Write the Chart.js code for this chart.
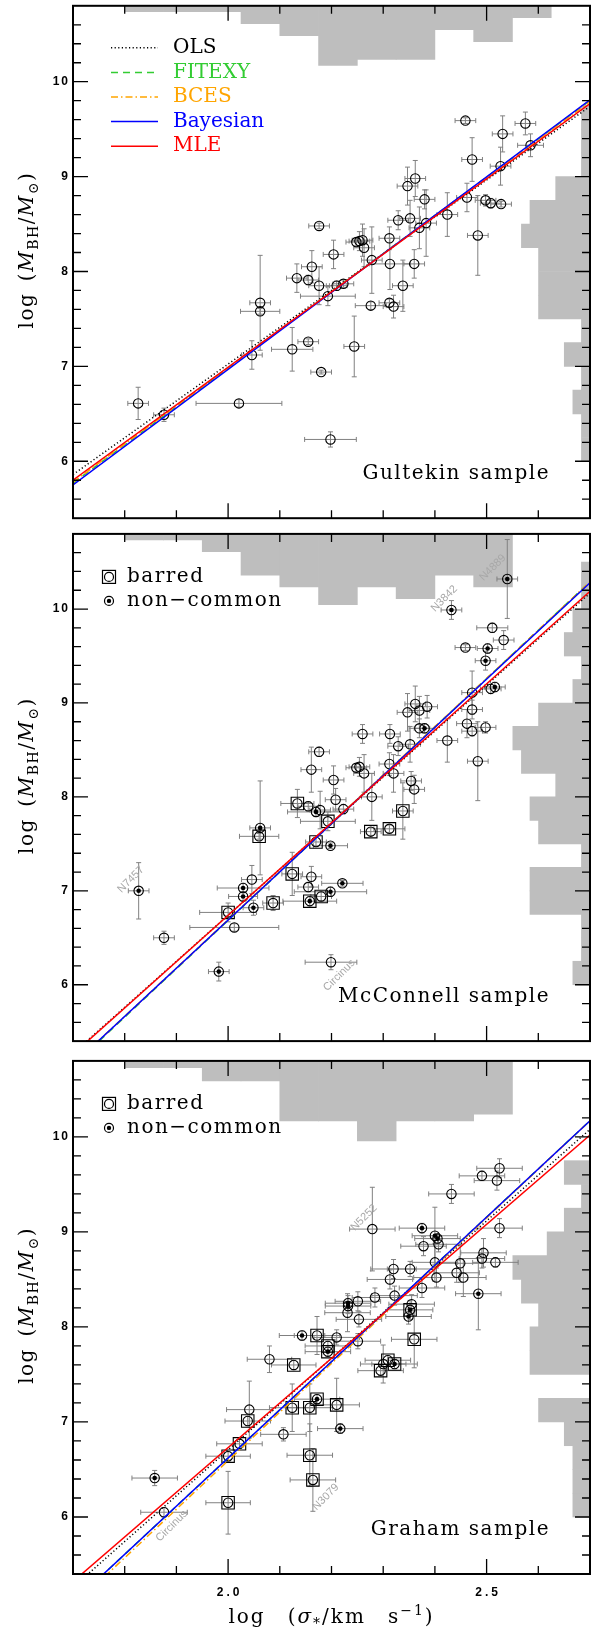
<!DOCTYPE html>
<html>
<head>
<meta charset="utf-8">
<script src="https://cdn.jsdelivr.net/npm/chart.js@4.4.1/dist/chart.umd.min.js"></script>
<style>
  body { margin: 0; background: #fff; overflow: hidden; }
  #wrap { position: relative; width: 600px; height: 1634px; }
  canvas { position: absolute; left: 0; }
</style>
</head>
<body>
<div id="wrap">
  <canvas id="gultekin" width="600" height="524" style="top:0"></canvas>
  <canvas id="mcconnell" width="600" height="527" style="top:524px"></canvas>
  <canvas id="graham" width="600" height="583" style="top:1051px"></canvas>
</div>
<script>
// ---- fit lines: log M_BH at log sigma = 1.7 and 2.7 ----
const fitNames = ['OLS', 'FITEXY', 'BCES', 'Bayesian', 'MLE'];
const fitColors = ['#000000', '#33cc33', '#ffa500', '#0000ff', '#ff0000'];
const fitDashes = [[1.2, 2.4], [7, 5], [7, 3, 1.5, 3], [], []];
const fitEnds = [1.7, 2.7];

const gulFitLo = [5.86, 5.77, 5.78, 5.75, 5.80];
const gulFitHi = [9.74, 9.80, 9.79, 9.81, 9.77];
const mcFitLo = [5.27, 5.14, 5.15, 5.15, 5.26];
const mcFitHi = [10.17, 10.29, 10.29, 10.28, 10.19];
const grFitLo = [5.26, 5.10, 5.06, 5.10, 5.32];
const grFitHi = [10.08, 10.17, 10.17, 10.17, 10.02];

// ---- marginal histograms ----
const sigmaBins = [1.8375, 1.9125, 1.9875, 2.0625, 2.1375, 2.2125, 2.2875, 2.3625, 2.4375, 2.5125, 2.5875];
const massBins = [6.125, 6.375, 6.625, 6.875, 7.125, 7.375, 7.625, 7.875, 8.125, 8.375, 8.625, 8.875,
                  9.125, 9.375, 9.625, 9.875, 10.125, 10.375];

const gulSigmaCounts = [1, 1, 1, 3, 5, 10, 9, 9, 4, 6, 2];
const gulMassCounts = [1, 1, 2, 1, 3, 1, 6, 6, 6, 8, 7, 4, 1, 1, 1, 0, 0, 0];
const mcSigmaCounts = [1, 1, 3, 7, 9, 12, 9, 11, 7, 9, 0];
const mcMassCounts = [2, 1, 1, 7, 7, 1, 6, 7, 4, 8, 9, 6, 2, 1, 3, 2, 1, 1];
const grSigmaCounts = [1, 1, 3, 3, 9, 9, 12, 9, 9, 8, 0];
const grMassCounts = [2, 2, 2, 3, 6, 0, 7, 7, 6, 8, 9, 5, 3, 1, 3, 0, 0, 0];

// ---- Gultekin sample ----
const gulSigma = [1.826, 1.876, 2.021, 2.046, 2.062, 2.062, 2.124, 2.155, 2.133, 2.155,
                  2.162, 2.176, 2.176, 2.180, 2.193, 2.204, 2.198, 2.210, 2.223, 2.244,
                  2.248, 2.254, 2.260, 2.263, 2.278, 2.276, 2.312, 2.313, 2.312, 2.320,
                  2.329, 2.338, 2.347, 2.352, 2.362, 2.360, 2.370, 2.380, 2.383, 2.424,
                  2.459, 2.462, 2.472, 2.483, 2.498, 2.508, 2.528, 2.527, 2.531, 2.575, 2.585];
const gulMass = [6.61, 6.49, 6.61, 7.12, 7.67, 7.58, 7.18, 7.26, 7.93, 7.91,
                 8.05, 8.48, 7.85, 6.94, 7.74, 8.18, 6.23, 7.85, 7.87, 7.21,
                 8.31, 8.32, 8.33, 8.25, 8.12, 7.64, 8.35, 8.08, 7.67, 7.63,
                 8.54, 7.85, 8.90, 8.56, 8.98, 8.08, 8.46, 8.76, 8.51, 8.60,
                 9.59, 8.78, 9.18, 8.38, 8.75, 8.72, 8.71, 9.11, 9.45, 9.56, 9.33];
const gulSigmaErr = [0.02, 0.02, 0.083, 0.02, 0.02, 0.038, 0.04, 0.02, 0.02, 0.02,
                     0.02, 0.02, 0.02, 0.02, 0.053, 0.02, 0.05, 0.02, 0.02, 0.02,
                     0.02, 0.02, 0.02, 0.02, 0.02, 0.03, 0.02, 0.04, 0.02, 0.02,
                     0.02, 0.02, 0.02, 0.02, 0.02, 0.02, 0.02, 0.02, 0.02, 0.02,
                     0.02, 0.02, 0.02, 0.02, 0.02, 0.02, 0.02, 0.02, 0.02, 0.02, 0.025];
const gulMassErr = [0.17, 0.07, 0.04, 0.15, 0.5, 0.03, 0.23, 0.03, 0.15, 0.05,
                    0.17, 0.03, 0.2, 0.02, 0.1, 0.15, 0.08, 0.05, 0.04, 0.32,
                    0.04, 0.1, 0.17, 0.2, 0.35, 0.04, 0.12, 0.27, 0.04, 0.12,
                    0.1, 0.27, 0.2, 0.19, 0.19, 0.15, 0.22, 0.1, 0.35, 0.23,
                    0.03, 0.15, 0.23, 0.42, 0.06, 0.05, 0.03, 0.2, 0.19, 0.12, 0.12];

// ---- McConnell sample (b = barred, n = non-common) ----
const mcSigma = [1.827, 1.876, 1.982, 2.000, 2.012, 2.029, 2.029, 2.046, 2.049, 2.062,
                 2.060, 2.087, 2.124, 2.134, 2.155, 2.161, 2.161, 2.155, 2.158, 2.170,
                 2.170, 2.176, 2.178, 2.180, 2.193, 2.198, 2.198, 2.204, 2.208, 2.221,
                 2.223, 2.199, 2.248, 2.254, 2.260, 2.263, 2.278, 2.276, 2.312, 2.312,
                 2.313, 2.320, 2.329, 2.338, 2.347, 2.352, 2.354, 2.360, 2.362, 2.370,
                 2.370, 2.380, 2.385, 2.424, 2.432, 2.459, 2.462, 2.472, 2.472, 2.472,
                 2.483, 2.498, 2.498, 2.502, 2.508, 2.511, 2.516, 2.533, 2.540];
const mcMass = [7.00, 6.50, 6.14, 6.77, 6.61, 7.03, 6.94, 7.12, 6.82, 7.67,
                7.58, 6.87, 7.18, 7.93, 7.90, 8.29, 7.15, 7.04, 6.89, 7.84,
                7.52, 8.48, 7.86, 6.94, 7.74, 7.48, 6.99, 8.18, 7.97, 7.08,
                7.87, 6.24, 8.31, 8.32, 8.67, 8.25, 8.00, 7.63, 7.66, 8.35,
                8.67, 8.25, 8.54, 7.85, 8.90, 8.56, 8.17, 8.08, 8.99, 8.92,
                8.73, 8.73, 8.96, 8.60, 9.99, 9.59, 8.78, 8.70, 8.93, 9.11,
                8.38, 8.74, 9.45, 9.58, 9.15, 9.80, 9.17, 9.67, 10.32];
const mcKind = ['n', 'o', 'n', 'b', 'o', 'n', 'n', 'o', 'n', 'n',
                'b', 'b', 'b', 'b', 'o', 'o', 'o', 'o', 'bn', 'n',
                'b', 'o', 'o', 'b', 'b', 'n', 'n', 'o', 'o', 'n',
                'o', 'o', 'o', 'o', 'o', 'o', 'o', 'b', 'b', 'o',
                'o', 'o', 'o', 'b', 'o', 'o', 'o', 'o', 'o', 'o',
                'o', 'n', 'o', 'o', 'n', 'o', 'o', 'o', 'o', 'o',
                'o', 'o', 'n', 'n', 'o', 'o', 'n', 'o', 'n'];
const mcSigmaErr = [0.02, 0.02, 0.02, 0.055, 0.086, 0.05, 0.028, 0.02, 0.02, 0.02,
                    0.038, 0.02, 0.02, 0.032, 0.02, 0.02, 0.02, 0.02, 0.052, 0.055,
                    0.02, 0.02, 0.02, 0.02, 0.053, 0.033, 0.07, 0.02, 0.02, 0.04,
                    0.02, 0.05, 0.02, 0.02, 0.02, 0.02, 0.02, 0.02, 0.03, 0.02,
                    0.02, 0.02, 0.02, 0.02, 0.02, 0.02, 0.02, 0.02, 0.02, 0.02,
                    0.02, 0.02, 0.02, 0.02, 0.02, 0.02, 0.02, 0.02, 0.02, 0.02,
                    0.02, 0.02, 0.02, 0.02, 0.02, 0.03, 0.02, 0.02, 0.02];
const mcMassErr = [0.3, 0.07, 0.1, 0.1, 0.04, 0.05, 0.05, 0.15, 0.08, 0.5,
                   0.03, 0.08, 0.23, 0.15, 0.05, 0.24, 0.11, 0.05, 0.05, 0.05,
                   0.05, 0.05, 0.2, 0.05, 0.1, 0.03, 0.05, 0.15, 0.12, 0.03,
                   0.05, 0.08, 0.04, 0.1, 0.1, 0.2, 0.25, 0.04, 0.04, 0.12,
                   0.1, 0.2, 0.1, 0.3, 0.2, 0.19, 0.1, 0.15, 0.19, 0.15,
                   0.1, 0.05, 0.12, 0.23, 0.1, 0.03, 0.15, 0.05, 0.1, 0.23,
                   0.42, 0.06, 0.1, 0.05, 0.05, 0.05, 0.05, 0.1, 0.42];
const mcNames = ['N7457', 'Circinus', 'N3842', 'N4889'];
const mcNameSigma = [1.812, 2.215, 2.418, 2.512];
const mcNameMass = [7.12, 6.10, 10.11, 10.44];

// ---- Graham sample ----
const grSigma = [1.858, 1.876, 2.000, 2.000, 2.022, 2.038, 2.041, 2.080, 2.107, 2.127,
                 2.124, 2.143, 2.172, 2.158, 2.158, 2.164, 2.172, 2.193, 2.193, 2.210,
                 2.210, 2.217, 2.231, 2.232, 2.232, 2.251, 2.253, 2.251, 2.279, 2.284,
                 2.295, 2.300, 2.309, 2.322, 2.313, 2.320, 2.322, 2.352, 2.349, 2.352,
                 2.355, 2.360, 2.375, 2.378, 2.375, 2.400, 2.403, 2.400, 2.405, 2.407,
                 2.432, 2.442, 2.449, 2.455, 2.484, 2.491, 2.491, 2.494, 2.517, 2.520,
                 2.525, 2.525];
const grMass = [6.41, 6.05, 6.64, 6.15, 6.77, 7.01, 7.13, 7.66, 6.87, 7.60,
                7.15, 7.91, 7.91, 7.15, 6.65, 6.39, 7.24, 7.80, 7.74, 7.89,
                7.18, 6.93, 8.15, 8.25, 8.22, 8.27, 8.08, 7.85, 9.03, 8.31,
                7.54, 7.61, 7.65, 7.61, 8.50, 8.61, 8.33, 8.61, 8.11, 8.18,
                8.24, 7.87, 9.04, 8.85, 8.41, 8.68, 8.52, 8.96, 8.93, 8.87,
                9.40, 8.57, 8.67, 8.52, 8.35, 9.59, 8.72, 8.78, 8.68, 9.54,
                9.67, 9.04];
const grKind = ['n', 'o', 'b', 'b', 'b', 'b', 'o', 'o', 'o', 'b',
                'b', 'n', 'b', 'b', 'b', 'b', 'bn', 'b', 'bn', 'o',
                'b', 'n', 'o', 'n', 'n', 'o', 'o', 'o', 'o', 'o',
                'b', 'o', 'b', 'bn', 'o', 'o', 'o', 'o', 'n', 'bn',
                'o', 'b', 'n', 'o', 'o', 'o', 'o', 'n', 'n', 'o',
                'o', 'o', 'o', 'o', 'n', 'o', 'o', 'o', 'o', 'o',
                'o', 'o'];
const grSigmaErr = [0.044, 0.045, 0.043, 0.043, 0.044, 0.044, 0.044, 0.043, 0.044, 0.043,
                    0.044, 0.044, 0.044, 0.044, 0.044, 0.044, 0.044, 0.044, 0.044, 0.044,
                    0.044, 0.044, 0.044, 0.044, 0.044, 0.044, 0.044, 0.044, 0.044, 0.044,
                    0.044, 0.044, 0.044, 0.044, 0.044, 0.044, 0.044, 0.044, 0.044, 0.044,
                    0.044, 0.044, 0.044, 0.044, 0.044, 0.044, 0.044, 0.044, 0.044, 0.044,
                    0.044, 0.044, 0.044, 0.044, 0.044, 0.044, 0.044, 0.044, 0.044, 0.044,
                    0.044, 0.044];
const grMassErr = [0.08, 0.05, 0.05, 0.33, 0.05, 0.05, 0.3, 0.14, 0.07, 0.05,
                   0.25, 0.05, 0.2, 0.25, 0.33, 0.33, 0.05, 0.05, 0.05, 0.08,
                   0.28, 0.05, 0.2, 0.08, 0.08, 0.1, 0.08, 0.08, 0.44, 0.1,
                   0.05, 0.2, 0.05, 0.05, 0.1, 0.1, 0.1, 0.08, 0.08, 0.1,
                   0.1, 0.3, 0.05, 0.1, 0.1, 0.2, 0.1, 0.3, 0.05, 0.08,
                   0.1, 0.1, 0.2, 0.2, 0.38, 0.05, 0.1, 0.15, 0.05, 0.1,
                   0.1, 0.1];
const grNames = ['Circinus', 'N5252', 'N3079'];
const grNameSigma = [1.891, 2.263, 2.189];
const grNameMass = [5.906, 9.15, 6.21];

const xTickLabels = ['2.0', '2.5'];
const xTickValues = [2.0, 2.5];
const yTickLabels = ['6', '7', '8', '9', '10'];
const yTickValues = [6, 7, 8, 9, 10];

const SERIF = "'DejaVu Serif', 'Liberation Serif', serif";
const SANS = "'Liberation Sans', Arial, sans-serif";
const GREY_HIST = '#bebebe';
const GREY_ERR = '#808080';

// draws a run of text pieces [text, font, dy] centred on (cx, cy)
function drawRich(ctx, parts, cx, cy, rotated, spacing) {
  ctx.save();
  ctx.translate(cx, cy);
  if (rotated) ctx.rotate(-Math.PI / 2);
  ctx.textAlign = 'left';
  ctx.textBaseline = 'alphabetic';
  ctx.letterSpacing = spacing + 'px';
  let w = 0;
  parts.forEach(p => { ctx.font = p[1]; w += ctx.measureText(p[0]).width; });
  let px = -w / 2;
  parts.forEach(p => {
    ctx.font = p[1];
    ctx.fillText(p[0], px, p[2] || 0);
    px += ctx.measureText(p[0]).width;
  });
  ctx.restore();
}

function markerCircle(ctx, x, y) {
  ctx.beginPath(); ctx.arc(x, y, 4.5, 0, Math.PI * 2); ctx.stroke();
}

// error bars go down right before the open circles
const errorBarPlugin = {
  id: 'errorBars',
  beforeDatasetDraw(chart, args) {
    const ds = chart.data.datasets[args.index];
    if (!ds.xErr) return;
    const {ctx, chartArea: a, scales: {x, y}} = chart;
    ctx.save();
    ctx.beginPath();
    ctx.rect(a.left, a.top, a.right - a.left, a.bottom - a.top);
    ctx.clip();
    ctx.strokeStyle = GREY_ERR;
    ctx.lineWidth = 1;
    ctx.beginPath();
    ds.data.forEach((p, i) => {
      const px = x.getPixelForValue(p.x), py = y.getPixelForValue(p.y);
      const x0 = x.getPixelForValue(p.x - ds.xErr[i]), x1 = x.getPixelForValue(p.x + ds.xErr[i]);
      const y0 = y.getPixelForValue(p.y - ds.yErr[i]), y1 = y.getPixelForValue(p.y + ds.yErr[i]);
      ctx.moveTo(x0, py); ctx.lineTo(x1, py);
      ctx.moveTo(x0, py - 2.5); ctx.lineTo(x0, py + 2.5);
      ctx.moveTo(x1, py - 2.5); ctx.lineTo(x1, py + 2.5);
      ctx.moveTo(px, y0); ctx.lineTo(px, y1);
      ctx.moveTo(px - 2.5, y0); ctx.lineTo(px + 2.5, y0);
      ctx.moveTo(px - 2.5, y1); ctx.lineTo(px + 2.5, y1);
    });
    ctx.stroke();
    ctx.restore();
  }
};

// frame, inward ticks, labels, legends
const framePlugin = {
  id: 'frame',
  afterDraw(chart, args, opts) {
    const {ctx, chartArea: a, scales: {x, y}} = chart;
    ctx.save();
    ctx.fillStyle = '#000';
    ctx.strokeStyle = '#000';

    ctx.lineWidth = 1.3;
    ctx.beginPath();
    for (let k = 18; k <= 26; k++) {
      const v = k / 10, px = x.getPixelForValue(v);
      const len = (k === 20 || k === 25) ? 15 : 8;
      ctx.moveTo(px, a.bottom); ctx.lineTo(px, a.bottom - len);
      ctx.moveTo(px, a.top); ctx.lineTo(px, a.top + len);
    }
    for (let k = 28; k <= 53; k++) {
      const v = k / 5, py = y.getPixelForValue(v);
      const len = (k % 5 === 0) ? 15 : 8;
      ctx.moveTo(a.left, py); ctx.lineTo(a.left + len, py);
      ctx.moveTo(a.right, py); ctx.lineTo(a.right - len, py);
    }
    ctx.stroke();

    ctx.lineWidth = 2;
    ctx.strokeRect(a.left, a.top, a.right - a.left, a.bottom - a.top);

    const R = '20px ' + SERIF, I = 'italic 20px ' + SERIF, S = '14px ' + SERIF;

    // tick labels
    ctx.font = 'bold 12px ' + SANS;
    ctx.textAlign = 'right';
    ctx.textBaseline = 'middle';
    ctx.letterSpacing = '2px';
    yTickValues.forEach((v, i) => ctx.fillText(yTickLabels[i], a.left - 3, y.getPixelForValue(v)));
    ctx.letterSpacing = '0px';
    if (opts.xLabels) {
      ctx.textAlign = 'center';
      ctx.letterSpacing = '3px';
      xTickValues.forEach((v, i) => ctx.fillText(xTickLabels[i], x.getPixelForValue(v) + 1.5, a.bottom + 19));
      ctx.letterSpacing = '0px';
      drawRich(ctx, [['log', R], ['\u2003(', R], ['\u03c3', I], ['*', S, 5], ['/km', R],
                     ['\u2003s', R], ['\u22121', S, -8], [')', R]],
               (a.left + a.right) / 2, a.bottom + 49, false, 2);
    }

    // y axis title
    drawRich(ctx, [['log', R], ['\u2002(', R], ['M', I], ['BH', S, 5], ['/', R], ['M', I],
                   ['\u2299', S, 5], [')', R]],
             33, (a.top + a.bottom) / 2 - 12, true, 1.5);

    // sample name
    ctx.font = R;
    ctx.letterSpacing = '1.5px';
    ctx.textAlign = 'right';
    ctx.textBaseline = 'middle';
    ctx.fillText(opts.sample, 550, a.bottom - 44);
    ctx.letterSpacing = '0px';

    // legend
    ctx.textAlign = 'left';
    ctx.textBaseline = 'middle';
    if (opts.fitLegend) {
      ctx.font = R;
      fitNames.forEach((name, i) => {
        const ly = a.top + 42 + i * 24.6;
        ctx.strokeStyle = fitColors[i];
        ctx.lineWidth = 1.5;
        ctx.setLineDash(fitDashes[i]);
        ctx.beginPath(); ctx.moveTo(111, ly); ctx.lineTo(158, ly); ctx.stroke();
        ctx.setLineDash([]);
        ctx.fillStyle = fitColors[i];
        ctx.fillText(name, 173, ly);
      });
    } else {
      const ly1 = a.top + 43, ly2 = a.top + 67;
      ctx.strokeStyle = '#000';
      ctx.fillStyle = '#000';
      ctx.lineWidth = 1.2;
      ctx.strokeRect(102.5, ly1 - 6.5, 13, 13);
      markerCircle(ctx, 109, ly1);
      markerCircle(ctx, 109, ly2);
      ctx.beginPath(); ctx.arc(109, ly2, 2.2, 0, Math.PI * 2); ctx.fill();
      ctx.font = R;
      ctx.letterSpacing = '1.5px';
      ctx.fillText('barred', 127, ly1);
      ctx.fillText('non\u2212common', 127, ly2);
      ctx.letterSpacing = '0px';
    }

    // object names
    if (opts.names) {
      ctx.fillStyle = '#a8a8a8';
      ctx.font = '11px ' + SANS;
      ctx.textAlign = 'center';
      ctx.textBaseline = 'middle';
      opts.names.forEach((n, i) => {
        ctx.save();
        ctx.translate(x.getPixelForValue(opts.nameX[i]), y.getPixelForValue(opts.nameY[i]));
        ctx.rotate(-Math.PI / 4);
        ctx.fillText(n, 0, 0);
        ctx.restore();
      });
    }
    ctx.restore();
  }
};

function buildPanel(id, p) {
  const pts = p.sigma.map((s, i) => ({x: s, y: p.mass[i]}));
  const pick = code => pts.filter((_, i) => p.kind && p.kind[i].includes(code));
  const datasets = [
    {
      type: 'bar', data: sigmaBins.map((s, i) => ({x: s, y: p.sigmaCounts[i]})),
      xAxisID: 'x', yAxisID: 'yHist', backgroundColor: GREY_HIST, grouped: false,
      barPercentage: 1, categoryPercentage: 1, borderWidth: 0, order: 20
    },
    {
      type: 'bar', indexAxis: 'y', data: massBins.map((m, i) => ({x: p.massCounts[i], y: m})),
      xAxisID: 'xHist', yAxisID: 'y', backgroundColor: GREY_HIST, grouped: false,
      barPercentage: 1, categoryPercentage: 1, borderWidth: 0, order: 20
    },
    {
      data: pts, xErr: p.sigmaErr, yErr: p.massErr,
      pointStyle: 'circle', pointRadius: 4.7, pointBorderColor: '#000',
      pointBackgroundColor: 'rgba(0,0,0,0)', pointBorderWidth: 1.1, order: 10
    },
    {
      data: pick('b'), pointStyle: 'rect', pointRadius: 8.8, pointBorderColor: '#000',
      pointBackgroundColor: 'rgba(0,0,0,0)', pointBorderWidth: 1.1, order: 9
    },
    {
      data: pick('n'), pointStyle: 'circle', pointRadius: 2.3, pointBorderWidth: 0,
      pointBackgroundColor: '#000', order: 8
    }
  ];
  fitNames.forEach((name, i) => {
    datasets.push({
      type: 'line', label: name,
      data: [{x: fitEnds[0], y: p.fitLo[i]}, {x: fitEnds[1], y: p.fitHi[i]}],
      borderColor: fitColors[i], borderDash: fitDashes[i], borderWidth: 1.5,
      pointRadius: 0, fill: false, order: 5 - i
    });
  });

  return new Chart(document.getElementById(id), {
    type: 'scatter',
    data: {datasets},
    options: {
      responsive: false,
      animation: false,
      devicePixelRatio: 1,
      events: [],
      layout: {padding: p.padding},
      plugins: {
        legend: {display: false},
        tooltip: {enabled: false},
        frame: p.frame
      },
      scales: {
        x: {type: 'linear', min: 1.7, max: 2.7, offset: false, display: false, ticks: {stepSize: 0.5}},
        y: {type: 'linear', min: 5.4, max: 10.8, offset: false, display: false, ticks: {stepSize: 1}},
        yHist: {type: 'linear', reverse: true, min: 0, max: p.histDepth, offset: false, display: false},
        xHist: {type: 'linear', reverse: true, min: 0, max: 60.3, offset: false, display: false}
      }
    },
    plugins: [errorBarPlugin, framePlugin]
  });
}

buildPanel('gultekin', {
  sigma: gulSigma, mass: gulMass, sigmaErr: gulSigmaErr, massErr: gulMassErr, kind: null,
  sigmaCounts: gulSigmaCounts, massCounts: gulMassCounts, histDepth: 86,
  fitLo: gulFitLo, fitHi: gulFitHi,
  padding: {top: 1, bottom: 5, left: 73, right: 10},
  frame: {sample: 'Gultekin sample', fitLegend: true}
});

buildPanel('mcconnell', {
  sigma: mcSigma, mass: mcMass, sigmaErr: mcSigmaErr, massErr: mcMassErr, kind: mcKind,
  sigmaCounts: mcSigmaCounts, massCounts: mcMassCounts, histDepth: 86,
  fitLo: mcFitLo, fitHi: mcFitHi,
  padding: {top: 4, bottom: 4, left: 73, right: 10},
  frame: {sample: 'McConnell sample', names: mcNames, nameX: mcNameSigma, nameY: mcNameMass}
});

buildPanel('graham', {
  sigma: grSigma, mass: grMass, sigmaErr: grSigmaErr, massErr: grMassErr, kind: grKind,
  sigmaCounts: grSigmaCounts, massCounts: grMassCounts, histDepth: 77,
  fitLo: grFitLo, fitHi: grFitHi,
  padding: {top: 4, bottom: 60, left: 73, right: 10},
  frame: {sample: 'Graham sample', names: grNames, nameX: grNameSigma, nameY: grNameMass, xLabels: true}
});
</script>
</body>
</html>
